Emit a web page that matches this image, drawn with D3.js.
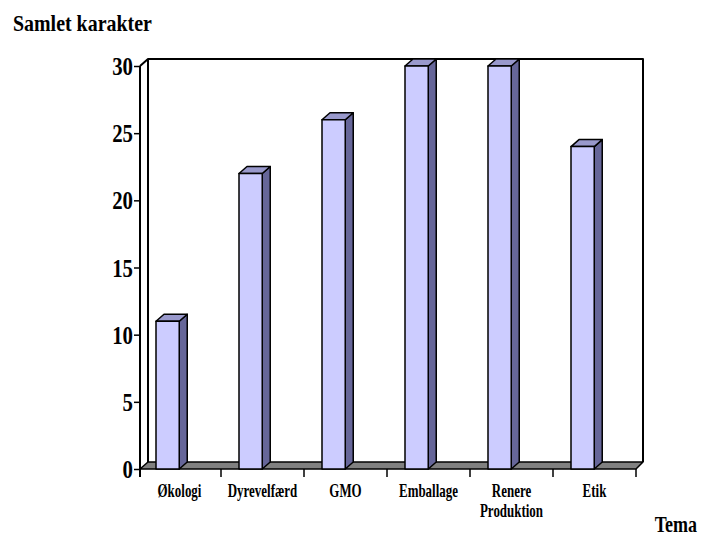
<!DOCTYPE html>
<html>
<head>
<meta charset="utf-8">
<script src="https://cdn.jsdelivr.net/npm/d3@7"></script>
<style>
  html, body { margin: 0; padding: 0; background: #ffffff; }
  svg { display: block; }
  text { font-family: "Liberation Serif", "Times New Roman", serif; font-weight: bold; fill: #000; }
</style>
</head>
<body>
<script>
// Samlet karakter pr. tema
const categories = ["Økologi", "Dyrevelfærd", "GMO", "Emballage", "Renere Produktion", "Etik"];
const values = [11, 22, 26, 30, 30, 24];
const yTicks = [0, 5, 10, 15, 20, 25, 30];
const yTitle = "Samlet karakter";
const xTitle = "Tema";

const W = 703, H = 539;
const depthX = 8, depthY = 7;          // 3D offset of the back wall
const plotLeft = 140, plotRight = 636; // front edge of the floor
const y0 = 469, yTop = 66;

const svg = d3.select("body").append("svg")
  .attr("width", W).attr("height", H);

const x = d3.scaleBand().domain(categories).range([138, 636]).paddingInner(0).paddingOuter(0);
const y = d3.scaleLinear().domain([0, 30]).range([y0, yTop]);

// helper: horizontally condensed text
function condensed(g, str, tx, ty, size, sx, anchor) {
  return g.append("text")
    .attr("transform", `translate(${tx},${ty}) scale(${sx},1)`)
    .attr("text-anchor", anchor || "start")
    .style("font-size", size + "px")
    .text(str);
}

const frame = svg.append("g")
  .attr("fill", "none").attr("stroke", "#000").attr("stroke-width", 2)
  .attr("stroke-linejoin", "round");

// back wall and left wall outline
const yBackTop = y(30) - depthY;
frame.append("path").attr("d",
  `M${plotLeft},${y(30)} L${plotLeft + depthX},${yBackTop} L${plotRight + depthX - 1},${yBackTop} L${plotRight + depthX - 1},${y0 - depthY}`);
frame.append("line")
  .attr("x1", plotLeft + depthX).attr("x2", plotLeft + depthX)
  .attr("y1", yBackTop).attr("y2", y0 - depthY);

// floor
svg.append("path")
  .attr("d", `M${plotLeft},${y0} L${plotRight},${y0} L${plotRight + depthX - 1},${y0 - depthY} L${plotLeft + depthX},${y0 - depthY} Z`)
  .attr("fill", "#808080").attr("stroke", "#000").attr("stroke-width", 1.5).attr("stroke-linejoin", "round");

// front vertical axis
frame.append("line")
  .attr("x1", plotLeft).attr("x2", plotLeft)
  .attr("y1", y(30)).attr("y2", y0 + 8);

// y axis ticks and labels
const yAxis = d3.axisLeft(y).tickValues(yTicks).tickSize(6).tickFormat("");
const yg = svg.append("g").attr("transform", `translate(${plotLeft},0)`).call(yAxis);
yg.select(".domain").remove();
yg.selectAll(".tick line").attr("stroke", "#000").attr("stroke-width", 1.5);
yTicks.forEach(v => condensed(svg, String(v), 133, y(v) + 9, 26, 0.8, "end"));

// x axis boundary ticks
const bounds = categories.map(c => x(c) + x.bandwidth());
svg.append("g").selectAll("line").data(bounds).join("line")
  .attr("x1", d => d).attr("x2", d => d)
  .attr("y1", y0).attr("y2", y0 + 8)
  .attr("stroke", "#000").attr("stroke-width", 1.5);

// 3D columns
const barOffset = 18, barW = x.bandwidth() * 0.28;
const bars = svg.append("g").attr("stroke", "#000").attr("stroke-width", 1.5).attr("stroke-linejoin", "round");
categories.forEach((c, i) => {
  const bx = x(c) + barOffset, by = y(values[i]);
  // side face
  bars.append("path")
    .attr("d", `M${bx + barW},${by} L${bx + barW + depthX},${by - depthY} L${bx + barW + depthX},${y0 - depthY} L${bx + barW},${y0} Z`)
    .attr("fill", "#666699");
  // top face
  bars.append("path")
    .attr("d", `M${bx},${by} L${bx + depthX},${by - depthY} L${bx + barW + depthX},${by - depthY} L${bx + barW},${by} Z`)
    .attr("fill", "#9999cc");
  // front face
  bars.append("rect")
    .attr("x", bx).attr("y", by).attr("width", barW).attr("height", y0 - by)
    .attr("fill", "#ccccff");
});

// category labels
categories.forEach(c => {
  const cx = x(c) + x.bandwidth() / 2;
  const words = c.split(" ");
  words.forEach((w, k) => condensed(svg, w, cx, 497 + k * 20, 18, 0.72, "middle"));
});

// axis titles
condensed(svg, yTitle, 13, 31, 24, 0.83, "start");
condensed(svg, xTitle, 697, 532, 24, 0.75, "end");
</script>
</body>
</html>
